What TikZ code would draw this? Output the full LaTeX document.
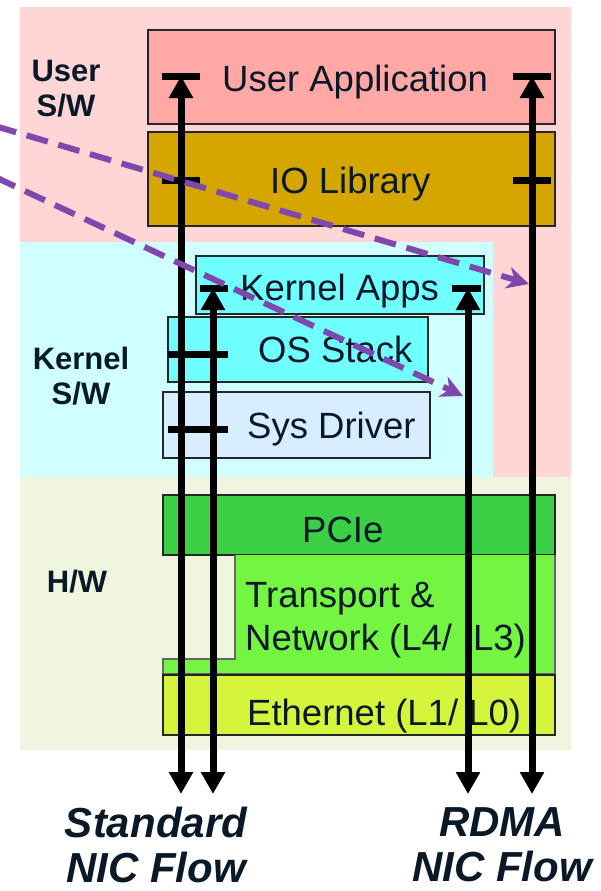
\documentclass[tikz,border=0pt]{standalone}
\usepackage{fontspec}
\setmainfont{Liberation Sans}
\usetikzlibrary{arrows.meta}

\definecolor{userbg}{RGB}{255,214,214}
\definecolor{kernbg}{RGB}{208,255,255}
\definecolor{hwbg}{RGB}{240,245,224}
\definecolor{appfill}{RGB}{255,168,165}
\definecolor{libfill}{RGB}{214,166,0}
\definecolor{kappfill}{RGB}{112,255,255}
\definecolor{drvfill}{RGB}{214,238,255}
\definecolor{pciefill}{RGB}{58,207,69}
\definecolor{netfill}{RGB}{115,245,66}
\definecolor{ethfill}{RGB}{212,245,60}
\definecolor{ink}{RGB}{10,25,40}
\definecolor{rdmaviolet}{RGB}{128,72,172}

\begin{document}
\begin{tikzpicture}[x=1pt, y=-1pt,
  layer/.style={draw=black!85, line width=1.5pt, inner sep=0pt},
  boxtext/.style={anchor=base west, inner sep=0pt, text=ink, font=\fontsize{36.5}{42}\selectfont},
  sidetext/.style={align=center, inner sep=0pt, text=ink, font=\fontsize{31}{35}\selectfont\bfseries},
  flowtext/.style={align=center, inner sep=0pt, text=ink, font=\fontsize{42}{45}\selectfont\bfseries\itshape},
  flow/.style={line width=7pt, {Triangle[width=23pt,length=22pt]}-{Triangle[width=23pt,length=22pt]}},
  tick/.style={line width=7pt},
  rdma/.style={draw=rdmaviolet, line width=6pt, dash pattern=on 22pt off 11pt,
    -{Stealth[width=22pt,length=22pt,inset=7pt]}}]
  \useasboundingbox (0,0) rectangle (600,891);

  % the three regions
  \fill[userbg] (20,7) rectangle (571,477);
  \fill[kernbg] (20,242) rectangle (493,477);
  \fill[hwbg] (20,477) rectangle (571,750);

  \node[sidetext] (usw) at (66,89) {User\\S/W};
  \node[sidetext] (ksw) at (81,376) {Kernel\\S/W};
  \node[sidetext] (hw) at (77,582) {H/W};

  % layers
  \node[layer, fill=appfill, minimum width=407pt, minimum height=94pt] (uapp) at (351.5,77) {};
  \node[layer, fill=libfill, minimum width=407pt, minimum height=94pt] (iolib) at (351.5,179) {};
  \node[layer, fill=kappfill, minimum width=288pt, minimum height=58pt] (kapps) at (340,285) {};
  \node[layer, fill=kappfill, minimum width=260pt, minimum height=65pt] (osstk) at (298,349.5) {};
  \node[layer, fill=drvfill, minimum width=267pt, minimum height=66pt] (sysdrv) at (296.5,425) {};
  \node[layer, fill=pciefill, minimum width=392pt, minimum height=60pt] (pcie) at (359,525) {};
  \fill[netfill] (235,555) -- (555,555) -- (555,674) -- (163,674) -- (163,659) -- (235,659) -- cycle;
  \draw[black!60, line width=1.2pt] (555,555) -- (555,674) -- (163,674) -- (163,659) -- (235,659) -- (235,555);
  \node[layer, fill=ethfill, minimum width=392pt, minimum height=60pt] (eth) at (359,705) {};

  \node[boxtext] (uapptext) at (222,92) {User Application};
  \node[boxtext] (iolibtext) at (270,193) {IO Library};
  \node[boxtext] (kappstext) at (240,300) {Kernel Apps};
  \node[boxtext] (osstktext) at (258,362) {OS Stack};
  \node[boxtext] (sysdrvtext) at (247,438) {Sys Driver};
  \node[boxtext] (pcietext) at (302,542) {PCIe};
  \node[boxtext] (transtext) at (245,607) {Transport \&};
  \node[boxtext] (nettext) at (245,650) {Network (L4/\hspace{0.3em} L3)};
  \node[boxtext] (ethtext) at (247,725) {Ethernet (L1/ L0)};

  % standard and rdma paths
  \coordinate (stdA) at (181,794);
  \coordinate (stdAtop) at (181,76);
  \coordinate (stdB) at (213,794);
  \coordinate (stdBtop) at (213,288);
  \coordinate (rdmaC) at (468,794);
  \coordinate (rdmaCtop) at (468,288);
  \coordinate (rdmaD) at (532,794);
  \coordinate (rdmaDtop) at (532,76);

  \draw[flow] (stdA) -- (stdAtop);
  \draw[flow] (stdB) -- (stdBtop);
  \draw[flow] (rdmaC) -- (rdmaCtop);
  \draw[flow] (rdmaD) -- (rdmaDtop);

  \draw[tick] (162,76) -- (200,76);
  \draw[tick] (513,76) -- (551,76);
  \draw[tick] (162,180) -- (200,180);
  \draw[tick] (513,180) -- (551,180);
  \draw[tick] (200,288) -- (228,288);
  \draw[tick] (452,288) -- (481,288);
  \draw[tick] (168,354) -- (228,354);
  \draw[tick] (168,429) -- (228,429);

  % bypass arrows
  \coordinate (byA) at (-5,126);
  \coordinate (byAend) at (529,284);
  \coordinate (byB) at (-5,177);
  \coordinate (byBend) at (463,396);
  \draw[rdma] (byA) -- (byAend);
  \draw[rdma] (byB) -- (byBend);

  \node[flowtext] (stdflow) at (156,845) {Standard\\NIC Flow};
  \node[flowtext] (rdmaflow) at (502,845) {RDMA\\NIC Flow};
\end{tikzpicture}
\end{document}
